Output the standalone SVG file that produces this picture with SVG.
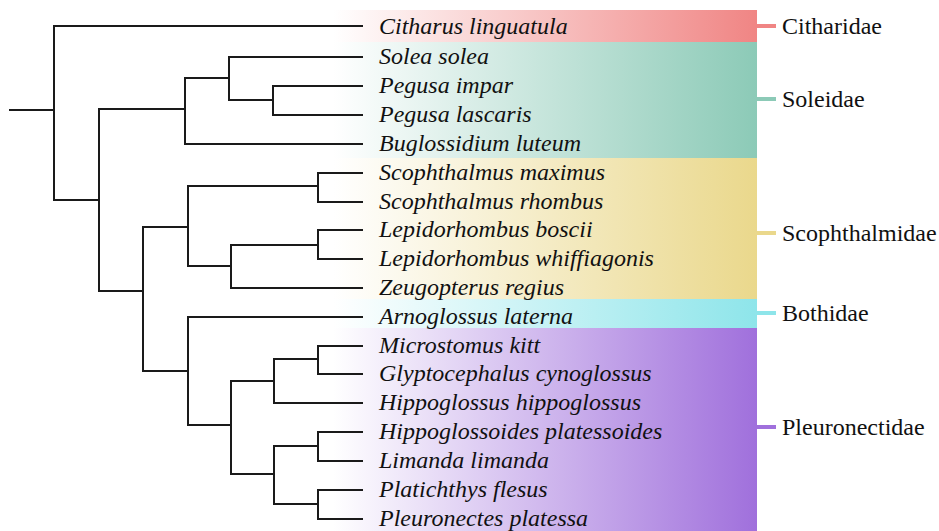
<svg xmlns="http://www.w3.org/2000/svg" width="939" height="531" viewBox="0 0 939 531">
<style>
.sp{font-family:"Liberation Serif","Times New Roman",serif;font-style:italic;font-size:24px;fill:#111}
.fam{font-family:"Liberation Serif","Times New Roman",serif;font-size:24px;fill:#111}
.br{fill:none;stroke:#1a1a1a;stroke-width:2;stroke-linecap:square}
.tick{stroke-width:4}
</style>
<defs>
<linearGradient id="gC" gradientUnits="userSpaceOnUse" x1="333" y1="0" x2="757" y2="0"><stop offset="0" stop-color="#F08584" stop-opacity="0"/><stop offset="1" stop-color="#F08584"/></linearGradient>
<linearGradient id="gS" gradientUnits="userSpaceOnUse" x1="333" y1="0" x2="757" y2="0"><stop offset="0" stop-color="#8CCAB7" stop-opacity="0"/><stop offset="1" stop-color="#8CCAB7"/></linearGradient>
<linearGradient id="gZ" gradientUnits="userSpaceOnUse" x1="333" y1="0" x2="757" y2="0"><stop offset="0" stop-color="#EAD88C" stop-opacity="0"/><stop offset="1" stop-color="#EAD88C"/></linearGradient>
<linearGradient id="gB" gradientUnits="userSpaceOnUse" x1="333" y1="0" x2="757" y2="0"><stop offset="0" stop-color="#8EE5EA" stop-opacity="0"/><stop offset="1" stop-color="#8EE5EA"/></linearGradient>
<linearGradient id="gP" gradientUnits="userSpaceOnUse" x1="333" y1="0" x2="757" y2="0"><stop offset="0" stop-color="#A070DC" stop-opacity="0"/><stop offset="1" stop-color="#A070DC"/></linearGradient>
</defs>
<rect width="939" height="531" fill="#fff"/>
<g id="bands">
<rect x="333" y="10" width="424" height="32" fill="url(#gC)"/>
<rect x="333" y="42" width="424" height="116" fill="url(#gS)"/>
<rect x="333" y="158" width="424" height="141" fill="url(#gZ)"/>
<rect x="333" y="299" width="424" height="29" fill="url(#gB)"/>
<rect x="333" y="328" width="424" height="203" fill="url(#gP)"/>
</g>
<g id="connectors">
<path class="br" d="M10 110H54M54 26V200M54 26H362M54 200H99M99 109V291M99 109H185M185 78V144M185 144H362M185 78H229M229 57V100M229 57H362M229 100H273M273 86V115M273 86H362M273 115H362M99 291H143M143 227V371M143 227H188M188 186V266M188 186H318M318 173V202M318 173H362M318 202H362M188 266H231M231 245V288M231 288H362M231 245H318M318 230V259M318 230H362M318 259H362M143 371H188M188 317V425M188 317H362M188 425H231M231 381V474M231 381H274M274 359V403M274 403H362M274 359H318M318 346V374M318 346H362M318 374H362M231 474H274M274 446V504M274 446H318M318 432V461M318 432H362M318 461H362M274 504H318M318 490V519M318 490H362M318 519H362"/>
<line class="tick" x1="757" y1="26" x2="776" y2="26" stroke="#F08584"/>
<line class="tick" x1="757" y1="99" x2="776" y2="99" stroke="#8CCAB7"/>
<line class="tick" x1="757" y1="233" x2="776" y2="233" stroke="#EAD88C"/>
<line class="tick" x1="757" y1="313" x2="776" y2="313" stroke="#8EE5EA"/>
<line class="tick" x1="757" y1="427" x2="776" y2="427" stroke="#A070DC"/>
</g>
<g id="species">
<text class="sp" x="379" y="34">Citharus linguatula</text>
<text class="sp" x="379" y="64">Solea solea</text>
<text class="sp" x="379" y="93">Pegusa impar</text>
<text class="sp" x="379" y="122">Pegusa lascaris</text>
<text class="sp" x="379" y="151">Buglossidium luteum</text>
<text class="sp" x="379" y="180">Scophthalmus maximus</text>
<text class="sp" x="379" y="209">Scophthalmus rhombus</text>
<text class="sp" x="379" y="237">Lepidorhombus boscii</text>
<text class="sp" x="379" y="266">Lepidorhombus whiffiagonis</text>
<text class="sp" x="379" y="295">Zeugopterus regius</text>
<text class="sp" x="379" y="324">Arnoglossus laterna</text>
<text class="sp" x="379" y="353">Microstomus kitt</text>
<text class="sp" x="379" y="381">Glyptocephalus cynoglossus</text>
<text class="sp" x="379" y="410">Hippoglossus hippoglossus</text>
<text class="sp" x="379" y="439">Hippoglossoides platessoides</text>
<text class="sp" x="379" y="468">Limanda limanda</text>
<text class="sp" x="379" y="497">Platichthys flesus</text>
<text class="sp" x="379" y="526">Pleuronectes platessa</text>
</g>
<g id="families">
<text class="fam" x="782" y="34">Citharidae</text>
<text class="fam" x="782" y="107">Soleidae</text>
<text class="fam" x="782" y="241">Scophthalmidae</text>
<text class="fam" x="782" y="321">Bothidae</text>
<text class="fam" x="782" y="435">Pleuronectidae</text>
</g>
</svg>
